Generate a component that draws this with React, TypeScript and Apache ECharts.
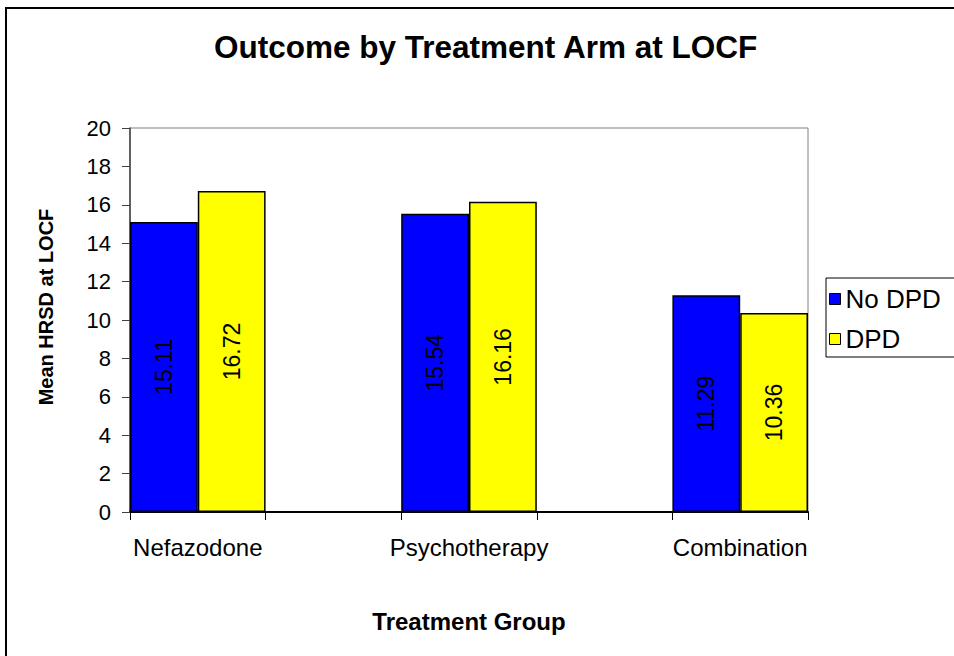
import React, { useEffect, useRef } from "react";
import * as echarts from "echarts";

const categories = ["Nefazodone", "", "Psychotherapy", "", "Combination"];
const noDpdValues = [15.11, null, 15.54, null, 11.29];
const dpdValues = [16.72, null, 16.16, null, 10.36];
const seriesNames = ["No DPD", "DPD"];
const yTicks = { min: 0, max: 20, interval: 2 };

const FONT = "'Liberation Sans', Arial, sans-serif";

export default function App() {
  const ref = useRef<HTMLDivElement>(null);
  useEffect(() => {
    document.body.style.margin = "0";
    const chart = echarts.init(ref.current!, null, { renderer: "svg" });
    const labelCfg = {
      show: true,
      position: "inside",
      rotate: 90,
      align: "center",
      verticalAlign: "middle",
      fontSize: 23,
      fontFamily: FONT,
      color: "#000",
      formatter: (p: any) => (p.value == null ? "" : p.value.toFixed(2)),
    };
    chart.setOption({
      animation: false,
      backgroundColor: "#fff",
      graphic: [
        {
          type: "rect",
          z: -10,
          silent: true,
          shape: { x: 6, y: 8, width: 1000, height: 700 },
          style: { fill: "#fff", stroke: "#000", lineWidth: 2 },
        },
      ],
      title: {
        text: "Outcome by Treatment Arm at LOCF",
        left: 209,
        top: 26,
        textStyle: { fontFamily: FONT, fontWeight: "bold", fontSize: 31.5, color: "#000" },
      },
      legend: {
        orient: "vertical",
        left: 826,
        top: 278,
        data: seriesNames,
        icon: "rect",
        itemWidth: 11,
        itemHeight: 11,
        itemGap: 14,
        padding: [8, 40, 5, 3],
        borderColor: "#000",
        borderWidth: 1,
        backgroundColor: "#fff",
        textStyle: { fontFamily: FONT, fontSize: 26, color: "#000", padding: [0, 0, 0, 0] },
        itemStyle: { borderColor: "#000", borderWidth: 1 },
      },
      grid: {
        left: 130,
        right: 146,
        top: 128,
        bottom: 144,
        show: true,
        borderColor: "#808080",
        borderWidth: 1,
        backgroundColor: "#fff",
      },
      xAxis: {
        type: "category",
        data: categories,
        boundaryGap: true,
        name: "Treatment Group",
        nameLocation: "middle",
        nameGap: 97,
        nameTextStyle: { fontFamily: FONT, fontWeight: "bold", fontSize: 24, color: "#000" },
        axisLine: { lineStyle: { color: "#000", width: 2 } },
        axisTick: { show: true, length: 8, interval: 0, lineStyle: { color: "#000" } },
        axisLabel: { interval: 0, margin: 23, fontFamily: FONT, fontSize: 24, color: "#000" },
      },
      yAxis: {
        type: "value",
        min: yTicks.min,
        max: yTicks.max,
        interval: yTicks.interval,
        name: "Mean HRSD at LOCF",
        nameLocation: "middle",
        nameGap: 74,
        nameRotate: 90,
        nameTextStyle: {
          fontFamily: FONT,
          fontWeight: "bold",
          fontSize: 20,
          color: "#000",
          padding: [0, 0, 0, 26],
        },
        axisLine: { show: true, lineStyle: { color: "#404040", width: 1.5 } },
        axisTick: { show: true, length: 8, lineStyle: { color: "#404040" } },
        splitLine: { show: false },
        axisLabel: { margin: 19, fontFamily: FONT, fontSize: 22, color: "#000" },
      },
      series: [
        {
          name: seriesNames[0],
          type: "bar",
          data: noDpdValues,
          barGap: "0%",
          barCategoryGap: "0%",
          itemStyle: { color: "#0000FF", borderColor: "#000", borderWidth: 1.5 },
          label: labelCfg,
        },
        {
          name: seriesNames[1],
          type: "bar",
          data: dpdValues,
          barGap: "0%",
          barCategoryGap: "0%",
          itemStyle: { color: "#FFFF00", borderColor: "#000", borderWidth: 1.5 },
          label: labelCfg,
        },
      ],
    });
    return () => chart.dispose();
  }, []);
  return <div ref={ref} style={{ width: 954, height: 656 }} />;
}
